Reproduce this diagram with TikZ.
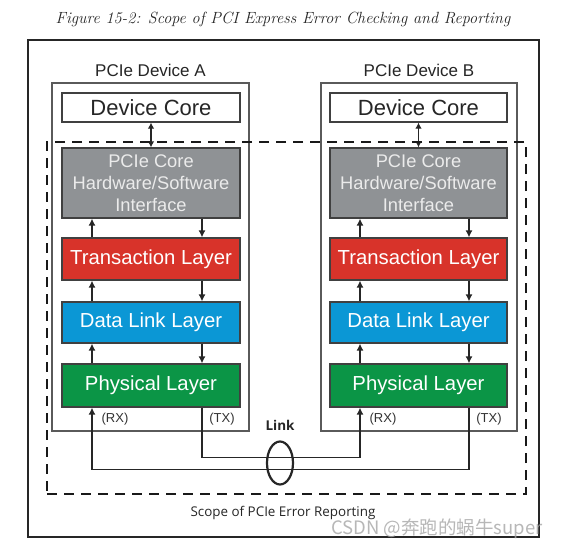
\documentclass[tikz,border=0pt]{standalone}
\usepackage{fontspec}
\newfontfamily\arial{Liberation Sans}
\newfontfamily\osans{Open Sans}
\newfontfamily\cjk{Noto Sans CJK SC}
\usetikzlibrary{arrows.meta,shapes.geometric}
\definecolor{hwgray}{HTML}{8F9295}
\definecolor{tlred}{HTML}{D8332A}
\definecolor{dlblue}{HTML}{0B97D5}
\definecolor{plgreen}{HTML}{0B9546}
\definecolor{boxline}{HTML}{5A5A5A}
\begin{document}
\begin{tikzpicture}[x=1pt,y=-1pt,
  devbox/.style={draw=boxline, line width=1.3pt, inner sep=0pt},
  devlabel/.style={font=\arial\fontsize{17}{19}\selectfont, text=black!85},
  layer/.style={draw=black!75, line width=1.2pt, inner sep=0pt, text=white,
    font=\arial\fontsize{20.3}{22}\selectfont},
  arr/.style={line width=1.3pt, draw=black!85, -{Latex[length=7pt,width=7pt]}},
  darr/.style={line width=1.3pt, draw=black!85, {Latex[length=6pt,width=6.5pt]}-{Latex[length=6pt,width=6.5pt]}},
  iolabel/.style={font=\arial\fontsize{13}{15}\selectfont, text=black!80}
]
\useasboundingbox (0,0) rectangle (563,549);
\fill[white] (0,0) rectangle (563,549);

% title
\node[font=\fontsize{16.2}{18}\selectfont\itshape, text=black!85] (title) at (283,19)
  {Figure 15-2: Scope of PCI Express Error Checking and Reporting};

% outer frame
\node[draw=black!85, line width=1.4pt, minimum width=511pt, minimum height=497pt, inner sep=0pt] (frame) at (283.5,288.5) {};

% device boxes
\node[devbox, minimum width=197pt, minimum height=348pt] (devA) at (150.5,257) {};
\node[devbox, minimum width=196pt, minimum height=348pt] (devB) at (419,257) {};
\node[devlabel] (labA) at (150.5,70) {PCIe Device A};
\node[devlabel] (labB) at (419,70) {PCIe Device B};

% device A stack
\node[layer, fill=white, text=black!85, minimum width=178pt, minimum height=29pt,
  font=\arial\fontsize{22}{24}\selectfont] (dcA) at (151,107.5) {Device Core};
\node[layer, fill=hwgray, text=black!8, minimum width=178pt, minimum height=70pt, align=center,
  font=\arial\fontsize{18.3}{22}\selectfont] (hwA) at (151,183) {PCIe Core\\Hardware/Software\\Interface};
\node[layer, fill=tlred, minimum width=178pt, minimum height=42pt] (tlA) at (151,259) {Transaction Layer};
\node[layer, fill=dlblue, minimum width=178pt, minimum height=41pt] (dlA) at (151,322.5) {Data Link Layer};
\node[layer, fill=plgreen, minimum width=178pt, minimum height=43pt] (plA) at (151,385.5) {Physical Layer};

% device B stack
\node[layer, fill=white, text=black!85, minimum width=177pt, minimum height=29pt,
  font=\arial\fontsize{22}{24}\selectfont] (dcB) at (418.5,107.5) {Device Core};
\node[layer, fill=hwgray, text=black!8, minimum width=177pt, minimum height=70pt, align=center,
  font=\arial\fontsize{18.3}{22}\selectfont] (hwB) at (418.5,183) {PCIe Core\\Hardware/Software\\Interface};
\node[layer, fill=tlred, minimum width=177pt, minimum height=42pt] (tlB) at (418.5,259) {Transaction Layer};
\node[layer, fill=dlblue, minimum width=177pt, minimum height=41pt] (dlB) at (418.5,322.5) {Data Link Layer};
\node[layer, fill=plgreen, minimum width=177pt, minimum height=43pt] (plB) at (418.5,385.5) {Physical Layer};

% vertical arrows A
\draw[darr] (dcA.south) -- (hwA.north);
\draw[arr] ([xshift=-59pt]tlA.north) -- ([xshift=-59pt]hwA.south);
\draw[arr] ([xshift=51pt]hwA.south) -- ([xshift=51pt]tlA.north);
\draw[arr] ([xshift=-59pt]dlA.north) -- ([xshift=-59pt]tlA.south);
\draw[arr] ([xshift=51pt]tlA.south) -- ([xshift=51pt]dlA.north);
\draw[arr] ([xshift=-59pt]plA.north) -- ([xshift=-59pt]dlA.south);
\draw[arr] ([xshift=51pt]dlA.south) -- ([xshift=51pt]plA.north);

% vertical arrows B
\draw[darr] (dcB.south) -- (hwB.north);
\draw[arr] ([xshift=-58.5pt]tlB.north) -- ([xshift=-58.5pt]hwB.south);
\draw[arr] ([xshift=50.5pt]hwB.south) -- ([xshift=50.5pt]tlB.north);
\draw[arr] ([xshift=-58.5pt]dlB.north) -- ([xshift=-58.5pt]tlB.south);
\draw[arr] ([xshift=50.5pt]tlB.south) -- ([xshift=50.5pt]dlB.north);
\draw[arr] ([xshift=-58.5pt]plB.north) -- ([xshift=-58.5pt]dlB.south);
\draw[arr] ([xshift=50.5pt]dlB.south) -- ([xshift=50.5pt]plB.north);

% RX / TX labels
\node[iolabel] (rxA) at (115,419) {(RX)};
\node[iolabel] (txA) at (222,419) {(TX)};
\node[iolabel] (rxB) at (383,419) {(RX)};
\node[iolabel] (txB) at (489,419) {(TX)};

% link wires
\draw[arr] ([xshift=50.5pt]plB.south) -- ++(0,62) -| ([xshift=-59pt]plA.south);
\draw[arr] ([xshift=51pt]plA.south) -- ++(0,50) -| ([xshift=-58.5pt]plB.south);

% link ellipse
\node[draw=black!85, ellipse, line width=2.2pt, minimum width=26pt, minimum height=43pt, inner sep=0pt] (link) at (280,463) {};
\node[font=\osans\bfseries\fontsize{13.5}{15}\selectfont, text=black!85] (linklab) at (280,425) {Link};

% scope of error reporting (dashed)
\node[draw=black!90, line width=2.4pt, dash pattern=on 10pt off 7pt, minimum width=479pt, minimum height=352pt, inner sep=0pt] (scope) at (286.5,318) {};
\node[font=\osans\fontsize{13.4}{15}\selectfont, text=black!85] (scopelab) at (283,513) {Scope of PCIe Error Reporting};

% watermark
\node[font=\cjk\fontsize{18.5}{20}\selectfont, text=black!35, opacity=0.8] (wm) at (437,529) {CSDN @奔跑的蜗牛super};
\end{tikzpicture}
\end{document}
